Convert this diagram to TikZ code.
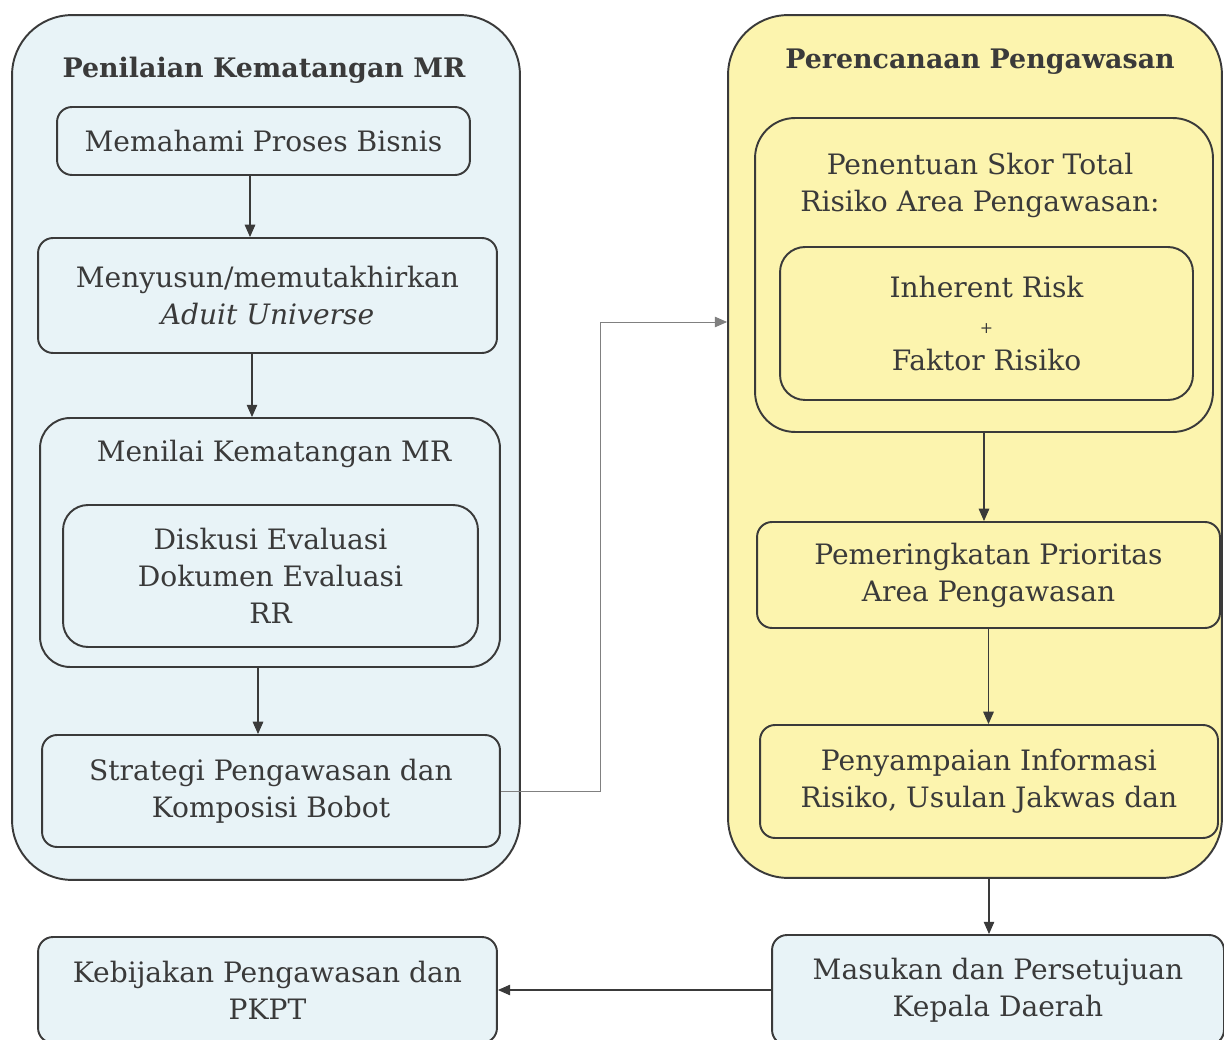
\documentclass[tikz,border=0pt]{standalone}
\usepackage{fontspec}
\setmainfont{DejaVu Serif}
\usetikzlibrary{arrows.meta}

\definecolor{paleblue}{HTML}{E8F3F7}
\definecolor{paleyellow}{HTML}{FCF4AE}
\definecolor{inkgray}{HTML}{3A3A3A}

\tikzset{
  box/.style={draw=inkgray, line width=1.1pt, rounded corners=0.3cm, align=center, inner sep=0pt, text=inkgray},
  panel/.style={draw=inkgray, line width=1.1pt, rounded corners=1.2cm},
  heading/.style={font=\fontsize{15.3}{21}\selectfont\bfseries, text=inkgray},
  flow/.style={draw=inkgray, line width=0.6pt, -{Triangle[width=6pt,length=7pt]}},
}

\begin{document}
\begin{tikzpicture}[x=0.02cm, y=-0.02cm, font=\fontsize{16}{21}\selectfont]
  \clip (0,0) rectangle (1224,1040);
  \fill[white] (0,0) rectangle (1224,1040);

  % left panel
  \node[panel, fill=paleblue, minimum width=10.16cm, minimum height=17.3cm] (lpanel) at (266,447.5) {};
  \node[heading] (ltitle) at (264,70) {Penilaian Kematangan MR};
  \node[box, minimum width=8.26cm, minimum height=1.36cm] (proses) at (263.5,141) {Memahami Proses Bisnis};
  \node[box, minimum width=9.18cm, minimum height=2.3cm] (universe) at (267.5,295.5) {Menyusun/memutakhirkan\\\textit{Aduit Universe}};
  \node[box, rounded corners=0.6cm, minimum width=9.2cm, minimum height=4.98cm] (menilai) at (270,542.5) {};
  \node[text=inkgray] (menilaititle) at (274,454) {Menilai Kematangan MR};
  \node[box, rounded corners=0.5cm, minimum width=8.3cm, minimum height=2.84cm] (diskusi) at (270.5,576) {Diskusi Evaluasi\\Dokumen Evaluasi\\RR};
  \node[box, minimum width=9.16cm, minimum height=2.24cm] (strategi) at (271,791) {Strategi Pengawasan dan\\Komposisi Bobot};

  % right panel
  \node[panel, fill=paleyellow, minimum width=9.88cm, minimum height=17.26cm] (rpanel) at (975,446.5) {};
  \node[heading] (rtitle) at (980,62) {Perencanaan Pengawasan};
  \node[box, rounded corners=0.8cm, minimum width=9.16cm, minimum height=6.28cm] (skor) at (984,275) {};
  \node[text=inkgray, align=center] (skortitle) at (980,185) {Penentuan Skor Total\\Risiko Area Pengawasan:};
  \node[box, rounded corners=0.5cm, minimum width=8.26cm, minimum height=3.06cm] (risk) at (986.5,323.5) {Inherent Risk\\{\small +}\\Faktor Risiko};
  \node[box, minimum width=9.26cm, minimum height=2.12cm] (prioritas) at (988.5,575) {Pemeringkatan Prioritas\\Area Pengawasan};
  \node[box, minimum width=9.16cm, minimum height=2.26cm] (informasi) at (989,781.5) {Penyampaian Informasi\\Risiko, Usulan Jakwas dan};

  % bottom row
  \node[box, fill=paleblue, minimum width=9.04cm, minimum height=2.2cm] (masukan) at (998,990) {Masukan dan Persetujuan\\Kepala Daerah};
  \node[box, fill=paleblue, minimum width=9.18cm, minimum height=2.12cm] (pkpt) at (267.5,990) {Kebijakan Pengawasan dan\\PKPT};

  \draw[flow] ([xshift=-0.27cm]proses.south) -- ([xshift=-0.27cm]proses.south |- universe.north);
  \draw[flow] ([xshift=-0.31cm]universe.south) -- ([xshift=-0.31cm]universe.south |- menilai.north);
  \draw[flow] ([xshift=-0.24cm]menilai.south) -- ([xshift=-0.24cm]menilai.south |- strategi.north);

  \coordinate (bend) at (600,322);
  \draw[flow, draw=gray, line width=0.5pt] (strategi.east) -| (bend) -- (rpanel.west |- bend);

  \draw[flow] (skor.south) -- (skor.south |- prioritas.north);
  \draw[flow] (prioritas.south) -- (prioritas.south |- informasi.north);
  \draw[flow] (rpanel.south -| informasi.south) -- (masukan.north -| informasi.south);
  \draw[flow] (masukan.west) -- (pkpt.east);
\end{tikzpicture}
\end{document}
